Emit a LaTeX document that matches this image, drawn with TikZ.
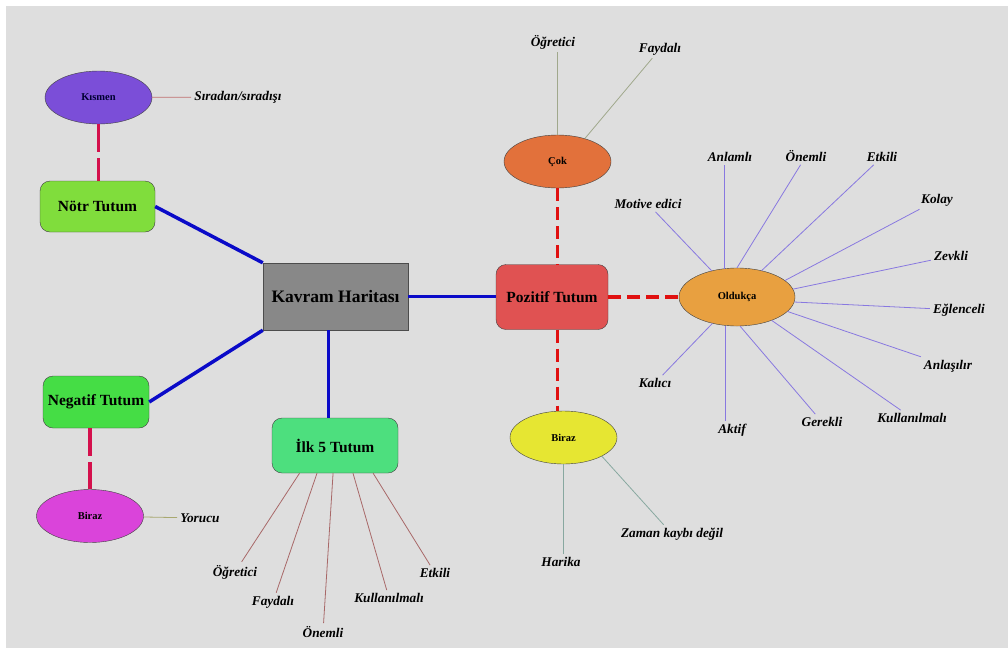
\documentclass[tikz,border=0pt]{standalone}
\usepackage{fontspec}
\setmainfont{Liberation Serif}
\usetikzlibrary{shapes.geometric}

\definecolor{bggray}{HTML}{DEDEDE}
\definecolor{kavramgray}{HTML}{888888}
\definecolor{notrgreen}{HTML}{80DD3C}
\definecolor{negatifgreen}{HTML}{45DD45}
\definecolor{ilkgreen}{HTML}{4DDF7E}
\definecolor{pozitifred}{HTML}{E05252}
\definecolor{kismenpurple}{HTML}{7B4ED8}
\definecolor{birazpink}{HTML}{DA44DA}
\definecolor{cokorange}{HTML}{E2713B}
\definecolor{oldukcaorange}{HTML}{E8A040}
\definecolor{birazyellow}{HTML}{E6E632}
\definecolor{linkblue}{HTML}{0A0AC8}
\definecolor{dashred}{HTML}{E01010}
\definecolor{dashpink}{HTML}{D4104C}
\definecolor{spokeviolet}{HTML}{8878E0}
\definecolor{spokerose}{HTML}{A86868}
\definecolor{spokeolive}{HTML}{A0A88C}
\definecolor{spoketeal}{HTML}{88A8A0}
\definecolor{spokebrown}{HTML}{C07070}
\definecolor{spokekhaki}{HTML}{A8A870}

\begin{document}
\begin{tikzpicture}[x=1pt, y=-1pt,
            tutum/.style = {draw=black!75, rounded corners=10pt, inner sep=2pt,
                font=\fontsize{15.5}{18}\selectfont\bfseries},
            oval/.style = {draw=black!75, ellipse, minimum width=107pt, minimum height=53pt,
                font=\fontsize{10.5}{12}\selectfont\bfseries},
            word/.style = {inner sep=3pt, font=\fontsize{13.3}{15}\selectfont\bfseries\itshape},
            bluelink/.style = {draw=linkblue, line width=3.5pt},
            redlink/.style = {draw=dashred, line width=3.5pt, dash pattern=on 13pt off 6pt},
            pinklink/.style = {draw=dashpink, line width=3.5pt, dash pattern=on 28pt off 6pt},
            spoke/.style = {line width=0.8pt}]
            \useasboundingbox (0,0) rectangle (1008,648);
            \fill[white] (0,0) rectangle (1008,648);
            \fill[bggray] (6,6) rectangle (1008,648);

            \node[draw=black!70, fill=kavramgray, minimum width=145pt, minimum height=67pt,
                font=\fontsize{17.5}{20}\selectfont\bfseries] (kavram) at (335.5,296.5) {Kavram Haritası};

            % left side
            \node[tutum, fill=notrgreen, minimum width=115pt, minimum height=51pt] (notr) at (97.5,206.5) {Nötr Tutum};
            \node[oval, fill=kismenpurple, text=black!80!blue] (kismen) at (98.5,97.5) {Kısmen};
            \node[word] (siradan) at (238,97) {Sıradan/sıradışı};
            \node[tutum, fill=negatifgreen, minimum width=106pt, minimum height=52pt] (negatif) at (96,402) {Negatif Tutum};
            \node[oval, fill=birazpink] (birazneg) at (90,516) {Biraz};
            \node[word] (yorucu) at (200,518) {Yorucu};

            % bottom
            \node[tutum, fill=ilkgreen, minimum width=126pt, minimum height=55pt] (ilk) at (335,445.5) {İlk 5 Tutum};
            \node[word] (ogretici1) at (235,572) {Öğretici};
            \node[word] (faydali1) at (273,602) {Faydalı};
            \node[word] (onemli1) at (323,632) {Önemli};
            \node[word] (kullanilmali1) at (389,598) {Kullanılmalı};
            \node[word] (etkili1) at (435,573) {Etkili};

            % right side
            \node[tutum, fill=pozitifred, minimum width=112pt, minimum height=65pt] (pozitif) at (552,297) {Pozitif Tutum};
            \node[oval, fill=cokorange] (cok) at (557.5,161.5) {Çok};
            \node[word] (ogretici2) at (553,42) {Öğretici};
            \node[word] (faydali2) at (660,49) {Faydalı};
            \node[oval, fill=birazyellow] (birazpoz) at (563.5,437.5) {Biraz};
            \node[word] (harika) at (561,562) {Harika};
            \node[word] (zaman) at (672,534) {Zaman kaybı değil};
            \node[oval, fill=oldukcaorange, minimum width=116pt, minimum height=58pt] (oldukca) at (737,297) {Oldukça};
            \node[word] (motive) at (648,204) {Motive edici};
            \node[word] (anlamli) at (730,157) {Anlamlı};
            \node[word] (onemli2) at (806,156) {Önemli};
            \node[word] (etkili2) at (882,157) {Etkili};
            \node[word] (kolay) at (937,200) {Kolay};
            \node[word] (zevkli) at (951,256) {Zevkli};
            \node[word] (eglenceli) at (959,310) {Eğlenceli};
            \node[word] (anlasilir) at (948,366) {Anlaşılır};
            \node[word] (kullanilmali2) at (912,418) {Kullanılmalı};
            \node[word] (gerekli) at (822,422) {Gerekli};
            \node[word] (aktif) at (732,430) {Aktif};
            \node[word] (kalici) at (655,383) {Kalıcı};

            % main links
            \draw[bluelink] (kavram.north west) -- (notr.east);
            \draw[bluelink] (kavram.south west) -- (negatif.east);
            \draw[bluelink] ([xshift=-7pt]kavram.south) -- ([xshift=-7pt]kavram.south |- ilk.north);
            \draw[bluelink] (kavram.east) -- (kavram.east -| pozitif.west);

            \draw[pinklink] (kismen.south) -- (kismen.south |- notr.north);
            \draw[pinklink] (negatif.south -| birazneg) -- (birazneg.north);
            \draw[redlink] (cok.south) -- (cok.south |- pozitif.north);
            \draw[redlink] (pozitif.east) -- (oldukca.west);
            \draw[redlink] (pozitif.south -| cok) -- (birazpoz.north -| cok);

            % spokes
            \draw[spoke, spokebrown] (kismen) -- (siradan);
            \draw[spoke, spokekhaki] (birazneg) -- (yorucu);
            \draw[spoke, spokerose] (ilk.-142) -- (ogretici1);
            \draw[spoke, spokerose] (ilk.-123) -- (faydali1);
            \draw[spoke, spokerose] (ilk.-94) -- (onemli1);
            \draw[spoke, spokerose] (ilk.-57) -- (kullanilmali1);
            \draw[spoke, spokerose] (ilk.-36) -- (etkili1);
            \draw[spoke, spokeolive] (cok.north) -- (cok.north |- ogretici2.south);
            \draw[spoke, spokeolive] (cok.40) -- (faydali2);
            \draw[spoke, spoketeal] (birazpoz.south) -- (birazpoz.south |- harika.north);
            \draw[spoke, spoketeal] (birazpoz.-26) -- (zaman);
            \draw[spoke, spokeviolet] (oldukca.134) -- (motive);
            \draw[spoke, spokeviolet] (oldukca.114) -- (oldukca.114 |- anlamli.south);
            \draw[spoke, spokeviolet] (oldukca.90) -- (onemli2);
            \draw[spoke, spokeviolet] (oldukca.47) -- (etkili2);
            \draw[spoke, spokeviolet] (oldukca.19) -- (kolay);
            \draw[spoke, spokeviolet] (oldukca.8) -- (zevkli);
            \draw[spoke, spokeviolet] (oldukca.-5) -- (eglenceli);
            \draw[spoke, spokeviolet] (oldukca.-16) -- (anlasilir);
            \draw[spoke, spokeviolet] (oldukca.-34) -- (kullanilmali2);
            \draw[spoke, spokeviolet] (oldukca.-84) -- (gerekli);
            \draw[spoke, spokeviolet] (oldukca.-112) -- (oldukca.-112 |- aktif.north);
            \draw[spoke, spokeviolet] (oldukca.-133) -- (kalici);
        \end{tikzpicture}
\end{document}
